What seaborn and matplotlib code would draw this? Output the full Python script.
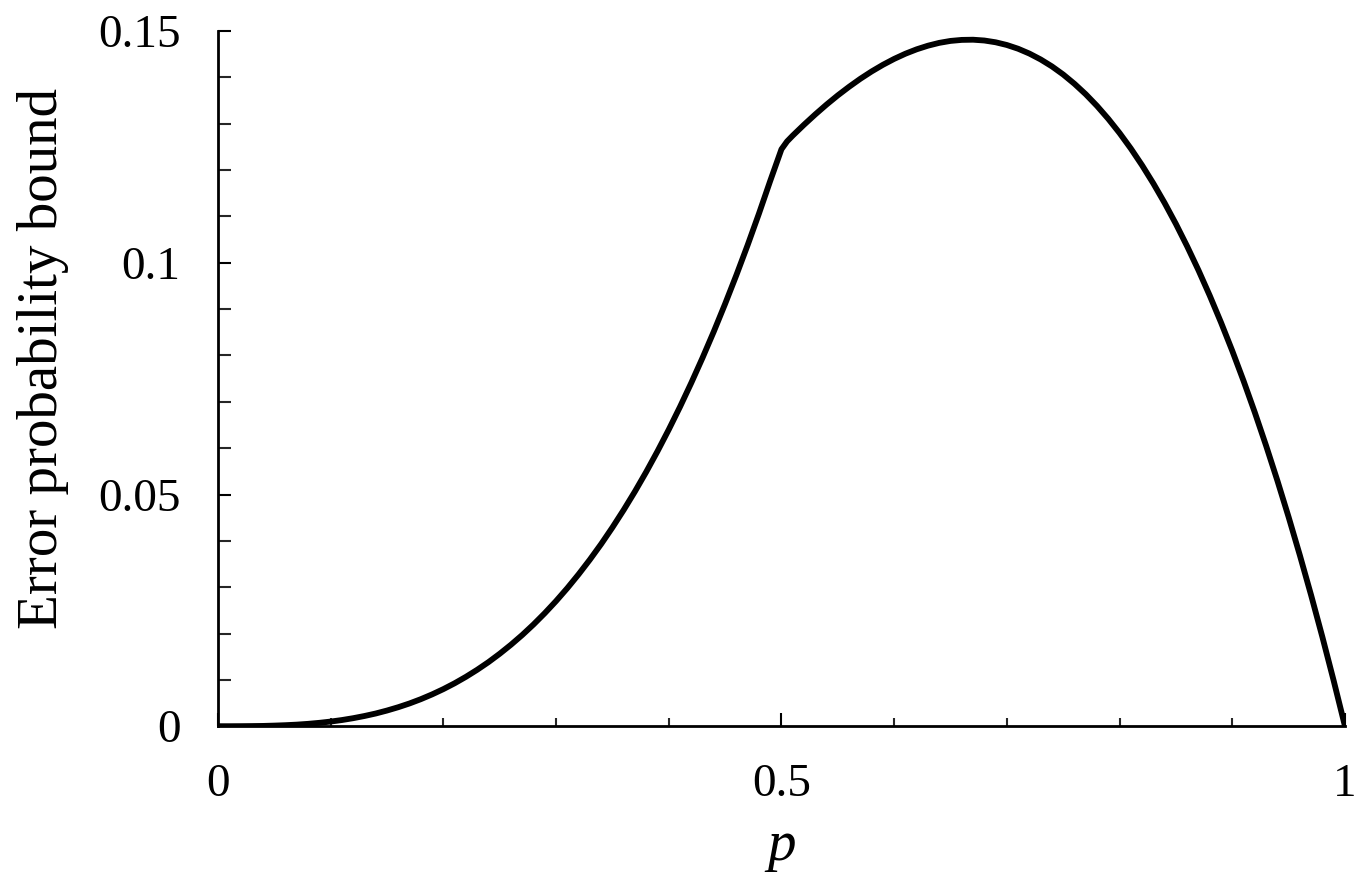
import numpy as np
import pandas as pd
import seaborn as sns
import matplotlib.pyplot as plt
from matplotlib.ticker import MultipleLocator

# values
p = [0.00, 0.01, 0.02, 0.03, 0.04, 0.05, 0.06, 0.07, 0.08, 0.09,
     0.10, 0.11, 0.12, 0.13, 0.14, 0.15, 0.16, 0.17, 0.18, 0.19,
     0.20, 0.21, 0.22, 0.23, 0.24, 0.25, 0.26, 0.27, 0.28, 0.29,
     0.30, 0.31, 0.32, 0.33, 0.34, 0.35, 0.36, 0.37, 0.38, 0.39,
     0.40, 0.41, 0.42, 0.43, 0.44, 0.45, 0.46, 0.47, 0.48, 0.49,
     0.50, 0.505, 0.51, 0.52, 0.53, 0.54, 0.55, 0.56, 0.57, 0.58, 0.59,
     0.60, 0.61, 0.62, 0.63, 0.64, 0.65, 0.66, 0.67, 0.68, 0.69,
     0.70, 0.71, 0.72, 0.73, 0.74, 0.75, 0.76, 0.77, 0.78, 0.79,
     0.80, 0.81, 0.82, 0.83, 0.84, 0.85, 0.86, 0.87, 0.88, 0.89,
     0.90, 0.91, 0.92, 0.93, 0.94, 0.95, 0.96, 0.97, 0.98, 0.99,
     1.00]
bound = [0.00000, 0.00000, 0.00001, 0.00003, 0.00006, 0.00013, 0.00022, 0.00034, 0.00051, 0.00073,
         0.00100, 0.00133, 0.00173, 0.00220, 0.00274, 0.00338, 0.00410, 0.00491, 0.00583, 0.00686,
         0.00800, 0.00926, 0.01065, 0.01217, 0.01382, 0.01563, 0.01758, 0.01968, 0.02195, 0.02439,
         0.02700, 0.02979, 0.03277, 0.03594, 0.03930, 0.04288, 0.04666, 0.05065, 0.05487, 0.05932,
         0.06400, 0.06892, 0.07409, 0.07951, 0.08518, 0.09113, 0.09734, 0.10382, 0.11059, 0.11765,
         0.12450, 0.12620, 0.12745, 0.12979, 0.13202, 0.13414, 0.13613, 0.13798, 0.13971, 0.14129, 0.14272,
         0.14400, 0.14512, 0.14607, 0.14685, 0.14746, 0.14788, 0.14810, 0.14814, 0.14797, 0.14759,
         0.14700, 0.14619, 0.14515, 0.14388, 0.14238, 0.14063, 0.13862, 0.13637, 0.13385, 0.13106,
         0.12800, 0.12466, 0.12103, 0.11711, 0.11290, 0.10838, 0.10354, 0.09840, 0.09293, 0.08713,
         0.08100, 0.07453, 0.06771, 0.06054, 0.05302, 0.04513, 0.03686, 0.02823, 0.01921, 0.00980,
         0.00000]

x_labels = ["0", "0.5", "1"]
y_labels = ["0", "0.05", "0.1", "0.15"]

df = pd.DataFrame({"p": p, "bound": bound})

sns.set_style("ticks")
plt.rcParams['font.family'] = ['Liberation Serif', 'DejaVu Serif']

fig = plt.figure(figsize=(13.62, 8.76), dpi=100)
ax = fig.add_axes([0.160, 0.171, 0.8275, 0.7935])

sns.lineplot(data=df, x="p", y="bound", color="black", linewidth=4.2, ax=ax)

ax.set_xlim(0, 1)
ax.set_ylim(0, 0.15)
ax.set_xticks([0, 0.5, 1])
ax.set_xticklabels(x_labels)
ax.xaxis.set_minor_locator(MultipleLocator(0.1))
ax.set_yticks([0, 0.05, 0.1, 0.15])
ax.set_yticklabels(y_labels)
ax.yaxis.set_minor_locator(MultipleLocator(0.01))

ax.tick_params(axis='both', which='major', direction='in', labelsize=34,
               color='black', labelcolor='black', width=1.5, pad=27)
ax.tick_params(axis='x', which='major', length=9.5)
ax.tick_params(axis='x', which='minor', direction='in', length=6, width=1.5)
ax.tick_params(axis='y', which='major', length=9.5)
ax.tick_params(axis='y', which='minor', direction='in', length=9.5, width=1.5)

for s in ['top', 'right']:
    ax.spines[s].set_visible(False)
for s in ['left', 'bottom']:
    ax.spines[s].set_linewidth(2)
    ax.spines[s].set_color('black')

ax.set_xlabel("p", fontsize=41, style='italic', color='black', labelpad=10)
ax.set_ylabel("Error probability bound", fontsize=41, color='black', labelpad=21)
ax.yaxis.label.set_y(0.529)

fig.savefig("out.png", dpi=100)
